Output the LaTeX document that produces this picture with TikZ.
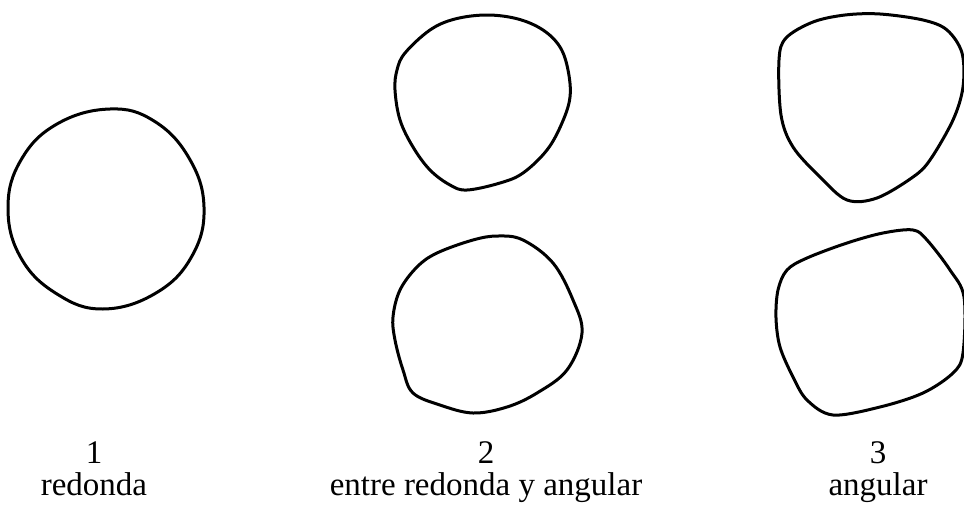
\documentclass[tikz,border=0pt]{standalone}
\usepackage{fontspec}
\setmainfont{Liberation Serif}
\begin{document}
\begin{tikzpicture}[x=1pt,y=-1pt,
    grain/.style={line width=3pt,line join=round,line cap=round},
    tag/.style={anchor=base,inner sep=0pt,font=\fontsize{33}{39}\selectfont}]
    \useasboundingbox (0,0) rectangle (964,506);
    % 1: redonda
    \draw[grain] plot[smooth cycle,tension=0.7] coordinates {(110,109) (154,121) (189,158) (204,207) (192,256) (156,293) (103,309) (57,294) (21,258) (8,208) (21,160) (57,124)};
    % 2: entre redonda y angular
    \draw[grain] plot[smooth cycle,tension=0.6] coordinates {(395,90) (397,70) (405,53) (430,30) (455,19) (487,15) (518,19) (543,30) (560,47) (568,70) (570,97) (562,123) (547,150) (523,173) (500,183) (467,190) (450,185) (430,170) (413,147) (400,120)};
    \draw[grain] plot[smooth cycle,tension=0.6] coordinates {(417,267) (437,253) (473,240) (498,236) (523,240) (553,263) (573,300) (582,333) (567,370) (537,393) (507,407) (473,413) (440,405) (413,393) (403,370) (395,340) (393,317) (400,290)};
    % 3: angular
    \draw[grain] plot[smooth cycle,tension=0.55] coordinates {(779,60) (786,38) (813,22) (845,15) (880,14) (923,20) (947,30) (962,53) (963,87) (953,120) (930,160) (913,177) (877,198) (847,200) (820,177) (793,147) (781,115)};
    \draw[grain] plot[smooth cycle,tension=0.55] coordinates {(913,230) (883,233) (847,243) (807,258) (787,270) (778,290) (776,318) (780,347) (793,377) (807,400) (833,415) (880,407) (923,393) (953,373) (963,353) (964,297) (950,270) (927,240)};
    % labels
    \node[tag] (n1) at (94,463) {1};
    \node[tag] (t1) at (94,495) {redonda};
    \node[tag] (n2) at (486,463) {2};
    \node[tag] (t2) at (486,495) {entre redonda y angular};
    \node[tag] (n3) at (878,463) {3};
    \node[tag] (t3) at (878,495) {angular};
\end{tikzpicture}
\end{document}
